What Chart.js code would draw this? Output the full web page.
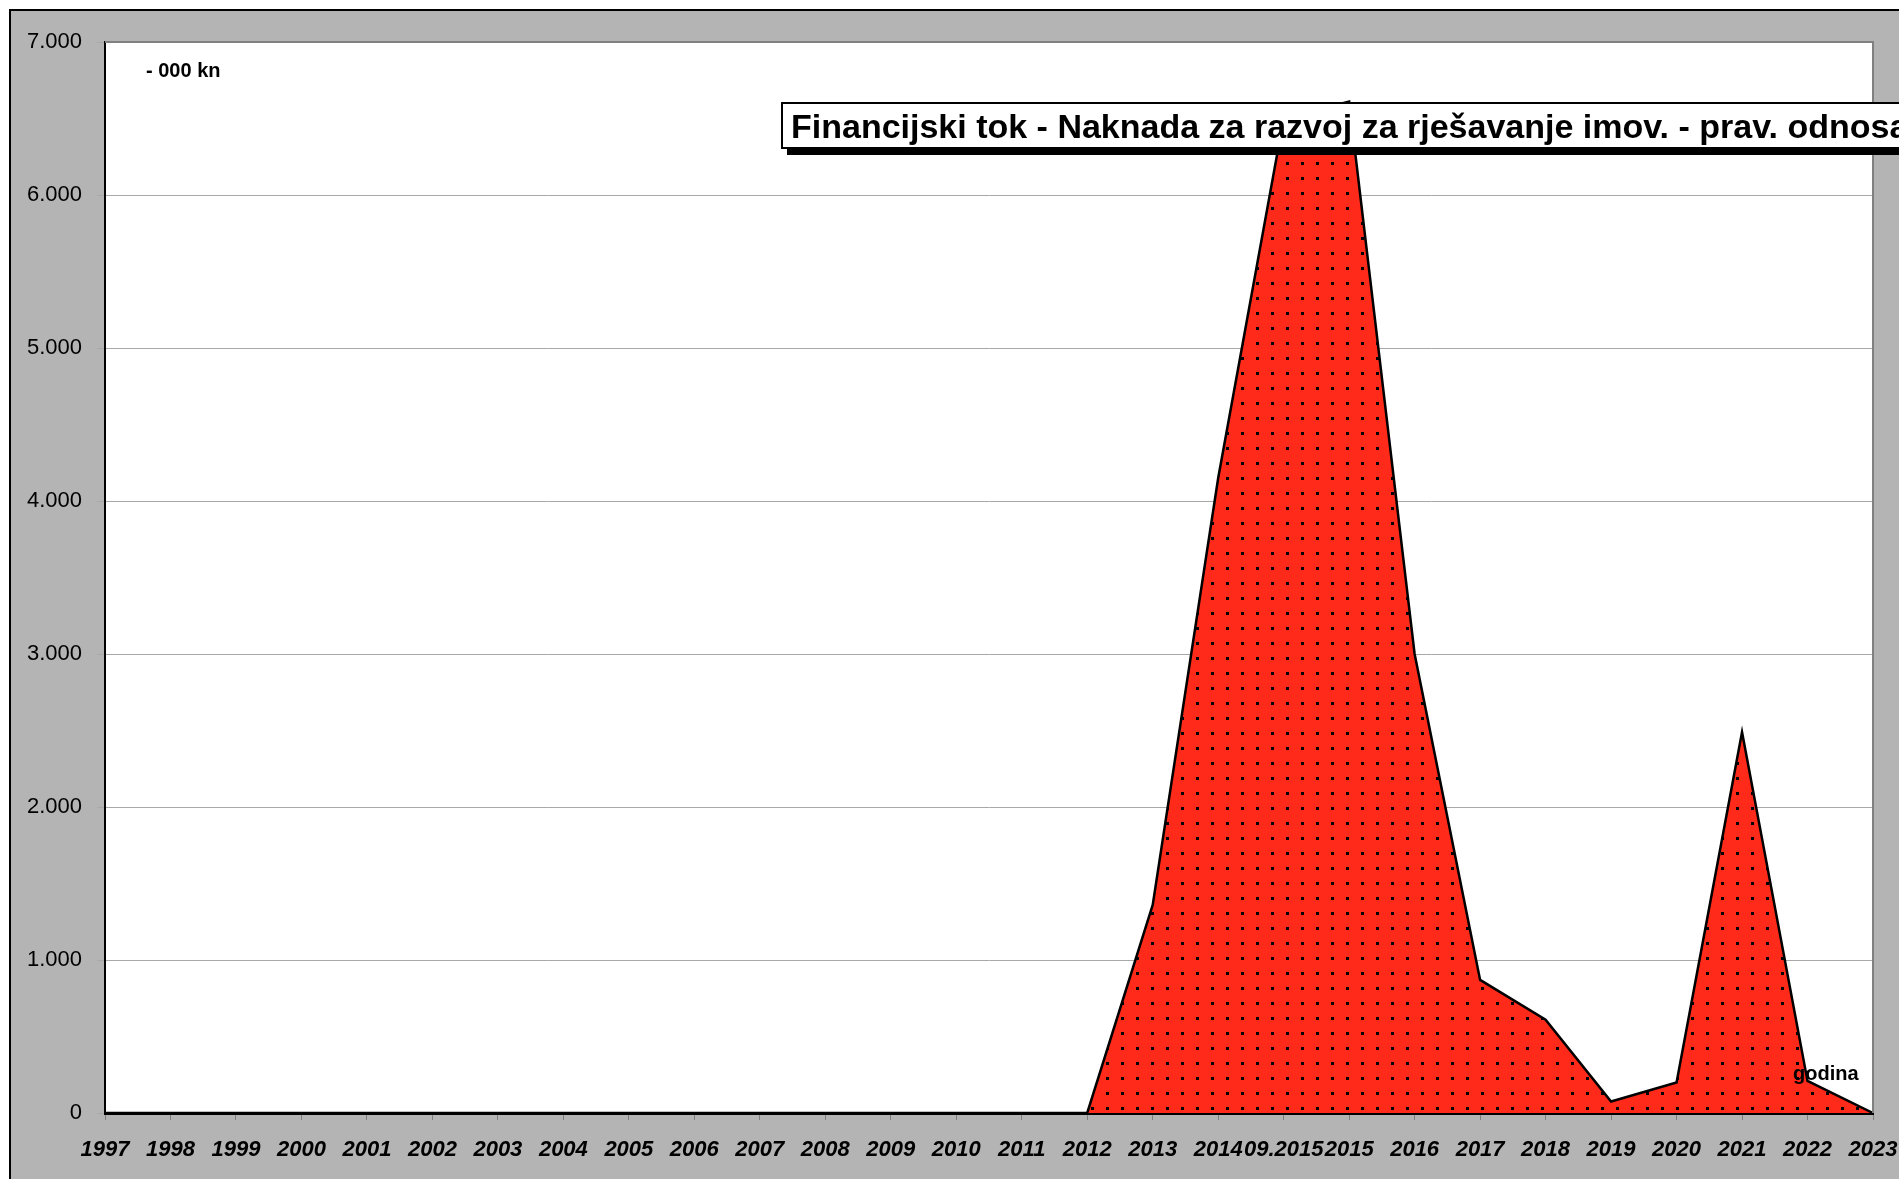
<!DOCTYPE html>
<html lang="hr">
<head>
  <meta charset="UTF-8">
  <title>Financijski tok - Naknada za razvoj</title>
  <script src="https://cdn.jsdelivr.net/npm/chart.js"></script>
  <style>
    html, body { margin: 0; padding: 0; background: #fff; }
    canvas { display: block; }
  </style>
</head>
<body>
  <canvas id="tok" width="1899" height="1179"></canvas>

  <script>
    // godine (x os) i iznosi u 000 kn
    const years = ['1997', '1998', '1999', '2000', '2001', '2002', '2003', '2004', '2005',
      '2006', '2007', '2008', '2009', '2010', '2011', '2012', '2013', '2014', '09.2015',
      '2015', '2016', '2017', '2018', '2019', '2020', '2021', '2022', '2023'];
    const amounts = [0, 0, 0, 0, 0, 0, 0, 0, 0,
      0, 0, 0, 0, 0, 0, 0, 1360, 4150, 6500,
      6610, 3000, 870, 610, 75, 200, 2490, 210, 0];
    const yTicks = [0, 1000, 2000, 3000, 4000, 5000, 6000, 7000];

    const titleText = 'Financijski tok - Naknada za razvoj za rješavanje imov. - prav. odnosa';
    const unitText = '- 000 kn';
    const axisText = 'godina';

    const FONT = "'Liberation Sans', Arial, sans-serif";

    // red fill with black dots, like the old excel pattern
    function dotPattern(ctx) {
      const tile = document.createElement('canvas');
      tile.width = 15;
      tile.height = 15;
      const t = tile.getContext('2d');
      t.fillStyle = '#ff2a1a';
      t.fillRect(0, 0, 15, 15);
      t.fillStyle = '#000';
      t.fillRect(11, 12, 3, 3);
      return ctx.createPattern(tile, 'repeat');
    }

    const fmt = v => String(v).replace(/\B(?=(\d{3})+(?!\d))/g, '.');

    const frame = {
      id: 'frame',
      beforeDraw(chart) {
        const c = chart.ctx;
        const a = chart.chartArea;
        c.save();
        c.fillStyle = '#fff';
        c.fillRect(0, 0, chart.width, chart.height);
        c.fillStyle = '#b4b4b4';
        c.fillRect(10, 10, chart.width, chart.height);
        c.strokeStyle = '#000';
        c.lineWidth = 2;
        c.beginPath();
        c.moveTo(10, chart.height + 5);
        c.lineTo(10, 10);
        c.lineTo(chart.width + 5, 10);
        c.stroke();
        c.fillStyle = '#fff';
        c.fillRect(a.left, a.top, a.right - a.left, a.bottom - a.top);
        c.restore();
      },
      afterDraw(chart) {
        const c = chart.ctx;
        const a = chart.chartArea;
        c.save();
        // plot border top / right
        c.strokeStyle = '#808080';
        c.lineWidth = 2;
        c.beginPath();
        c.moveTo(a.left, a.top);
        c.lineTo(a.right, a.top);
        c.lineTo(a.right, a.bottom);
        c.stroke();

        // title box with shadow
        c.fillStyle = '#000';
        c.fillRect(787, 109, 1200, 46);
        c.fillStyle = '#fff';
        c.fillRect(782, 103, 1200, 45);
        c.strokeStyle = '#000';
        c.lineWidth = 2;
        c.strokeRect(782, 103, 1200, 45);
        c.fillStyle = '#000';
        c.textBaseline = 'alphabetic';
        c.textAlign = 'left';
        c.font = 'bold 34px ' + FONT;
        c.fillText(titleText, 791, 138);

        c.font = 'bold 20px ' + FONT;
        c.fillText(unitText, 146, 77);
        c.fillText(axisText, 1793, 1080);
        c.restore();
      }
    };

    const ctx = document.getElementById('tok').getContext('2d');
    const chart = new Chart(ctx, {
      type: 'line',
      data: {
        labels: years,
        datasets: [{
          data: amounts,
          fill: 'origin',
          backgroundColor: dotPattern(ctx),
          borderColor: '#000',
          borderWidth: 2.5,
          pointRadius: 0,
          tension: 0
        }]
      },
      options: {
        responsive: false,
        animation: false,
        layout: { padding: { left: 0, top: 42, right: 26, bottom: 0 } },
        plugins: { legend: { display: false }, tooltip: { enabled: false } },
        scales: {
          x: {
            offset: false,
            afterFit: s => {
              s.height = 66;
              s.paddingLeft = 0;
              s.paddingRight = 0;
            },
            grid: { drawOnChartArea: false, color: '#808080', tickLength: 7 },
            border: { color: '#000', width: 3 },
            ticks: {
              autoSkip: false, maxRotation: 0, minRotation: 0, padding: 17,
              color: '#000',
              font: { family: FONT, size: 22, style: 'italic', weight: 'bold' }
            }
          },
          y: {
            min: 0,
            max: 7000,
            afterFit: s => {
              s.width = 105;
              s.paddingTop = 0;
              s.paddingBottom = 0;
            },
            afterBuildTicks: s => { s.ticks = yTicks.map(v => ({ value: v })); },
            grid: { color: '#a8a8a8', tickLength: 8 },
            border: { color: '#000', width: 2 },
            ticks: {
              padding: 15,
              color: '#000',
              font: { family: FONT, size: 22 },
              callback: v => fmt(v)
            }
          }
        }
      },
      plugins: [frame]
    });
  </script>
</body>
</html>
